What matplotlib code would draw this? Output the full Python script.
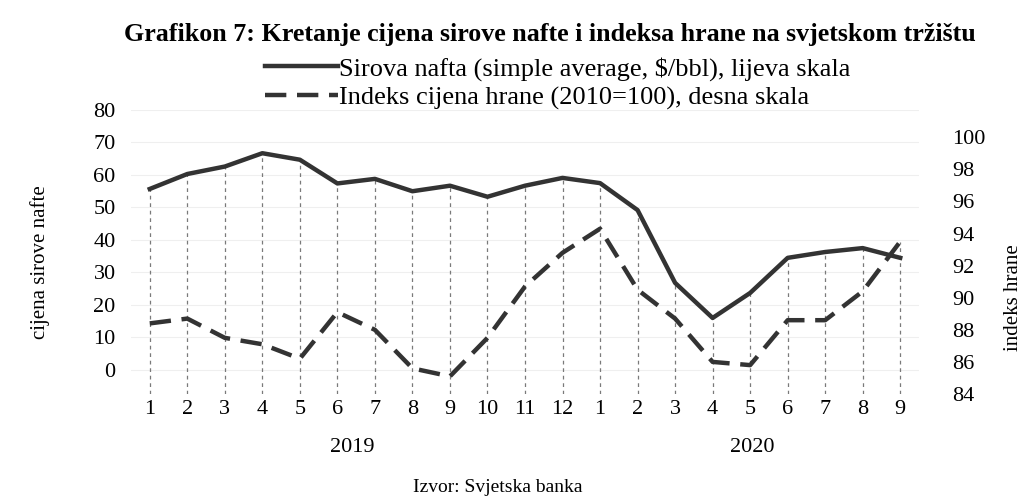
import matplotlib.pyplot as plt
import numpy as np

plt.rcParams["font.family"] = ["Liberation Serif", "DejaVu Serif"]

# podaci ocitani sa grafikona (mjeseci 1/2019 - 9/2020)
mjeseci = ["1", "2", "3", "4", "5", "6", "7", "8", "9", "10", "11", "12",
           "1", "2", "3", "4", "5", "6", "7", "8", "9"]
nafta = [55.7, 60.3, 62.6, 66.7, 64.7, 57.4, 58.8, 55.0, 56.7, 53.3, 56.7, 59.1,
         57.5, 49.2, 26.8, 16.0, 23.7, 34.5, 36.3, 37.5, 34.5]
hrana = [88.4, 88.7, 87.5, 87.1, 86.2, 89.1, 88.0, 85.6, 85.1, 87.5, 90.7, 92.8,
         94.3, 90.5, 88.7, 86.0, 85.8, 88.6, 88.6, 90.4, 93.5]
godine = ["2019", "2020"]
lijeve_oznake = [0, 10, 20, 30, 40, 50, 60, 70, 80]
desne_oznake = [84, 86, 88, 90, 92, 94, 96, 98, 100]

W, H = 1027, 499
fig = plt.figure(figsize=(W / 100, H / 100), dpi=100)
ax = fig.add_axes([131 / W, 1 - 394 / H, (919 - 131) / W, (394 - 110) / H])
ax2 = ax.twinx()

x = np.arange(len(mjeseci))
lo = (-7.4, 80)
hi = (84.0, 101.7)

# drop lines od vise tacke do dna
hrana_l = lo[0] + (np.array(hrana) - hi[0]) / (hi[1] - hi[0]) * (lo[1] - lo[0])
vrh = np.maximum(np.array(nafta), hrana_l)
ax.vlines(x, lo[0], vrh, colors="#7a7a7a", linestyles=(0, (3, 3)), lw=0.9, zorder=1)

for v in lijeve_oznake:
    ax.axhline(v, color="#efefef", lw=0.8, zorder=0)

l1, = ax.plot(x, nafta, color="#333333", lw=3.2, zorder=3,
              label="Sirova nafta (simple average, \\$/bbl), lijeva skala")
l2, = ax2.plot(x, hrana, color="#333333", lw=3.2, dashes=(4.8, 2.4), zorder=3,
               label="Indeks cijena hrane (2010=100), desna skala")

ax.set_xlim(-0.5, len(mjeseci) - 0.5)
ax.set_ylim(*lo)
ax2.set_ylim(*hi)
ax.set_xticks(x)
ax.set_xticklabels(mjeseci)
ax.set_yticks(lijeve_oznake)
ax2.set_yticks(desne_oznake)

for a in (ax, ax2):
    for s in a.spines.values():
        s.set_visible(False)
ax.tick_params(axis="x", length=0, pad=4, labelsize=16)
ax.tick_params(axis="y", length=0, pad=11, labelsize=16)
ax2.tick_params(axis="y", length=0, pad=24, labelsize=16)

# godine ispod mjeseci
ax.text(5.4, -0.19, godine[0], transform=ax.get_xaxis_transform(),
        ha="center", va="center", fontsize=16)
ax.text(16.05, -0.19, godine[1], transform=ax.get_xaxis_transform(),
        ha="center", va="center", fontsize=16)

fig.text(40 / W, 1 - 262 / H, "cijena sirove nafte", rotation=90,
         ha="center", va="center", fontsize=15)
fig.text(1013 / W, 1 - 298 / H, "indeks hrane", rotation=90,
         ha="center", va="center", fontsize=15)

fig.text(550 / W, 1 - 35 / H,
         "Grafikon 7: Kretanje cijena sirove nafte i indeksa hrane na svjetskom tržištu",
         ha="center", va="center", fontsize=18.7, fontweight="bold")

fig.legend(handles=[l1, l2], loc="upper left", bbox_to_anchor=(265 / W, 1 - 57 / H),
           frameon=False, fontsize=19, handlelength=2.75, handletextpad=0.05,
           labelspacing=0.2, borderpad=0, borderaxespad=0)

fig.text(498 / W, 1 - 488 / H, "Izvor: Svjetska banka", ha="center", va="center",
         fontsize=14)

fig.savefig("out.png", dpi=100)
